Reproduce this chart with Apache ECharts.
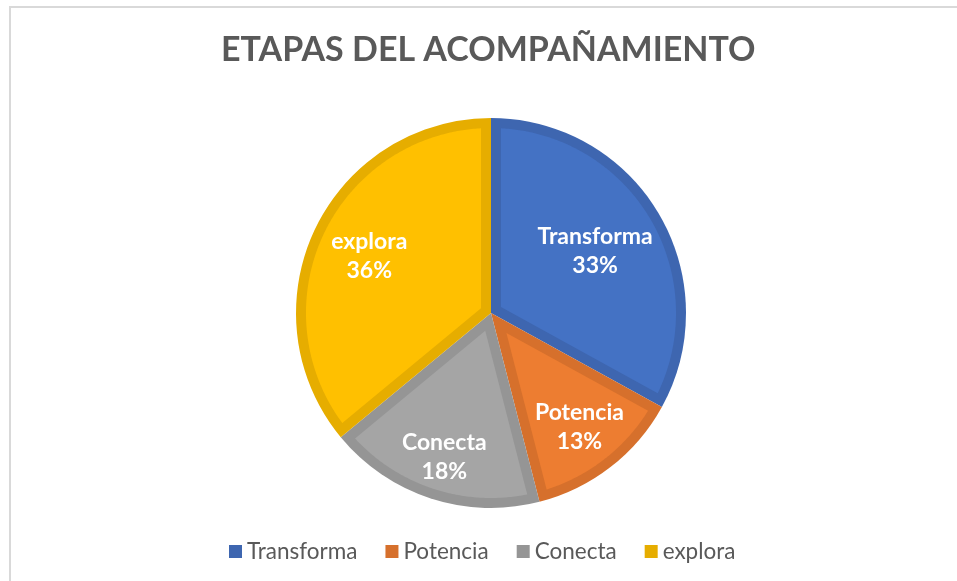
<!DOCTYPE html>
<html>
<head>
<meta charset="utf-8">
<title>Etapas del acompañamiento</title>
<script src="https://cdn.jsdelivr.net/npm/echarts@6/dist/echarts.min.js"></script>
<style>
  html, body { margin: 0; padding: 0; background: #fff; }
  #main { width: 957px; height: 581px; }
  .frame {
    position: absolute; left: 9px; top: 6px; width: 1000px; height: 640px;
    border-left: 2px solid #d9d9d9; border-top: 2px solid #d9d9d9;
    pointer-events: none;
  }
</style>
</head>
<body>
<div id="main"></div>
<div class="frame"></div>
<script>
var categories = ['Transforma', 'Potencia', 'Conecta', 'explora'];
var shares = [33, 13, 18, 36];
var fillColors = ['#4472C4', '#ED7D31', '#A5A5A5', '#FFC000'];
var edgeColors = ['#3E66B0', '#D6702C', '#959595', '#E6AD00'];
// where each label sits, as a fraction of the radius
var labelDepth = [0.62, 0.74, 0.775, 0.69];

// pie geometry (pixels)
var cx = 491, cy = 313, R = 195, inset = 10;
var fontName = 'Lato, "Open Sans", sans-serif';

var total = shares.reduce(function(a, b) { return a + b; }, 0);

function pt(phi, r) {
  return [cx + r * Math.sin(phi), cy - r * Math.cos(phi)];
}

function sliceAngles(i) {
  var before = 0;
  for (var j = 0; j < i; j++) before += shares[j];
  return [before / total * 2 * Math.PI, (before + shares[i]) / total * 2 * Math.PI];
}

// lighter inner part of each slice, Excel style inner border
function insetSlice(params, api) {
  var i = params.dataIndex;
  var a = sliceAngles(i);
  var half = (a[1] - a[0]) / 2;
  var points = [pt(a[0] + half, inset / Math.sin(half))];
  var t = Math.sqrt((R - inset) * (R - inset) - inset * inset);
  var shift = Math.atan(inset / t);
  var b0 = a[0] + shift, b1 = a[1] - shift;
  var steps = Math.max(2, Math.ceil((b1 - b0) / 0.01));
  for (var k = 0; k <= steps; k++) {
    points.push(pt(b0 + (b1 - b0) * k / steps, R - inset));
  }
  return {
    type: 'polygon',
    shape: { points: points },
    style: { fill: fillColors[i] }
  };
}

var pieData = categories.map(function(name, i) {
  return { name: name, value: shares[i], itemStyle: { color: edgeColors[i] } };
});
var labelData = categories.map(function(name, i) {
  return { name: name, value: shares[i] };
});
var insetData = shares.map(function(v, i) { return [v, i]; });

var myChart = echarts.init(document.getElementById('main'));

var option = {
  animation: false,
  title: {
    text: 'ETAPAS DEL ACOMPAÑAMIENTO',
    left: 216,
    top: 28,
    textStyle: { fontFamily: fontName, fontSize: 34, fontWeight: 'bold', color: '#595959' }
  },
  legend: {
    data: categories,
    bottom: 13,
    left: 224,
    icon: 'rect',
    itemWidth: 13,
    itemHeight: 13,
    itemGap: 28,
    textStyle: { fontFamily: fontName, fontSize: 22.5, color: '#595959', padding: [0, 0, 0, 0] }
  },
  series: [{
    type: 'pie',
    center: [cx, cy],
    radius: R,
    startAngle: 90,
    silent: true,
    z: 1,
    label: { show: false },
    labelLine: { show: false },
    data: pieData
  }, {
    type: 'custom',
    coordinateSystem: 'none',
    silent: true,
    z: 3,
    renderItem: insetSlice,
    data: insetData
  }, {
    type: 'pie',
    center: [cx, cy],
    radius: R,
    startAngle: 90,
    silent: true,
    z: 5,
    avoidLabelOverlap: false,
    itemStyle: { color: 'rgba(0,0,0,0)' },
    label: {
      show: true,
      position: 'inside',
      color: '#fff',
      fontFamily: fontName,
      fontSize: 23,
      fontWeight: 'bold',
      lineHeight: 29,
      formatter: function(p) { return p.name + '\n' + Math.round(p.percent) + '%'; }
    },
    labelLayout: function(params) {
      var a = sliceAngles(params.dataIndex);
      var p = pt((a[0] + a[1]) / 2, labelDepth[params.dataIndex] * R);
      return { x: p[0], y: p[1], align: 'center', verticalAlign: 'middle' };
    },
    labelLine: { show: false },
    data: labelData
  }]
};

myChart.setOption(option);
</script>
</body>
</html>
